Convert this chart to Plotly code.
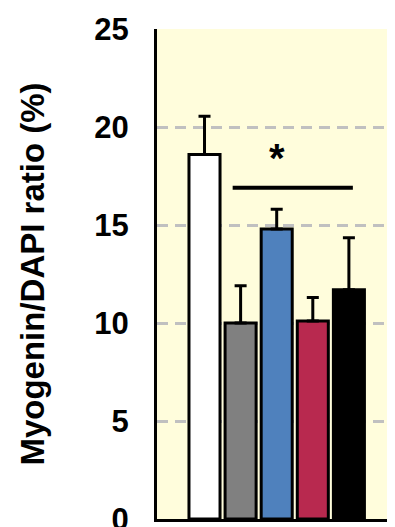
import plotly.graph_objects as go

groups = ["A", "B", "C", "D", "E"]
values = [18.6, 10.0, 14.8, 10.1, 11.7]
errors = [1.95, 1.9, 1.0, 1.2, 2.65]
colors = ["#FFFFFF", "#808080", "#4F81BD", "#B8294F", "#000000"]
y_ticks = [0, 5, 10, 15, 20, 25]
sig_x = [0.78, 4.11]
sig_y = [16.9, 16.9]
star_x = 2.0
star_y = 18.4

fig = go.Figure()
fig.add_trace(go.Bar(
    x=list(range(len(groups))), y=values, width=0.86,
    marker=dict(color=colors, line=dict(color="#000000", width=3)),
    error_y=dict(type="data", symmetric=False, array=errors, arrayminus=[0]*5,
                 color="#000000", thickness=3, width=6),
    hoverinfo="skip",
))
fig.add_trace(go.Scatter(x=sig_x, y=sig_y, mode="lines",
                         line=dict(color="#000000", width=4), hoverinfo="skip"))
fig.add_annotation(x=star_x, y=star_y, text="<b>*</b>", showarrow=False,
                   font=dict(family="Liberation Sans, Arial", size=40, color="#000000"),
                   yanchor="middle")

# page body has an 8px margin, so the figure is shifted by 8px
fig.update_layout(
    width=387, height=519,
    margin=dict(l=149, r=0, t=21, b=8),
    paper_bgcolor="#FFFFFF", plot_bgcolor="#FFFDDC",
    showlegend=False,
    font=dict(family="Liberation Sans, Arial", color="#000000"),
)
fig.update_xaxes(range=[-1.316, 5.277], showticklabels=False, showgrid=False,
                 zeroline=False, showline=True, linecolor="#000000", linewidth=3,
                 ticks="", automargin=False)
fig.update_yaxes(range=[0, 25], tickvals=y_ticks, ticktext=[f"<b>{v}</b>" for v in y_ticks],
                 tickfont=dict(size=31), showgrid=True, gridcolor="#C0C0C0", gridwidth=3,
                 griddash="11px,7px", zeroline=False, showline=True, linecolor="#000000",
                 linewidth=3, ticks="", ticklabelstandoff=19, ticklabeloverflow="allow",
                 automargin=False,
                 title=dict(text="<b>Myogenin/DAPI ratio (%)</b>", font=dict(size=33), standoff=40))

fig.write_html("out.html")
